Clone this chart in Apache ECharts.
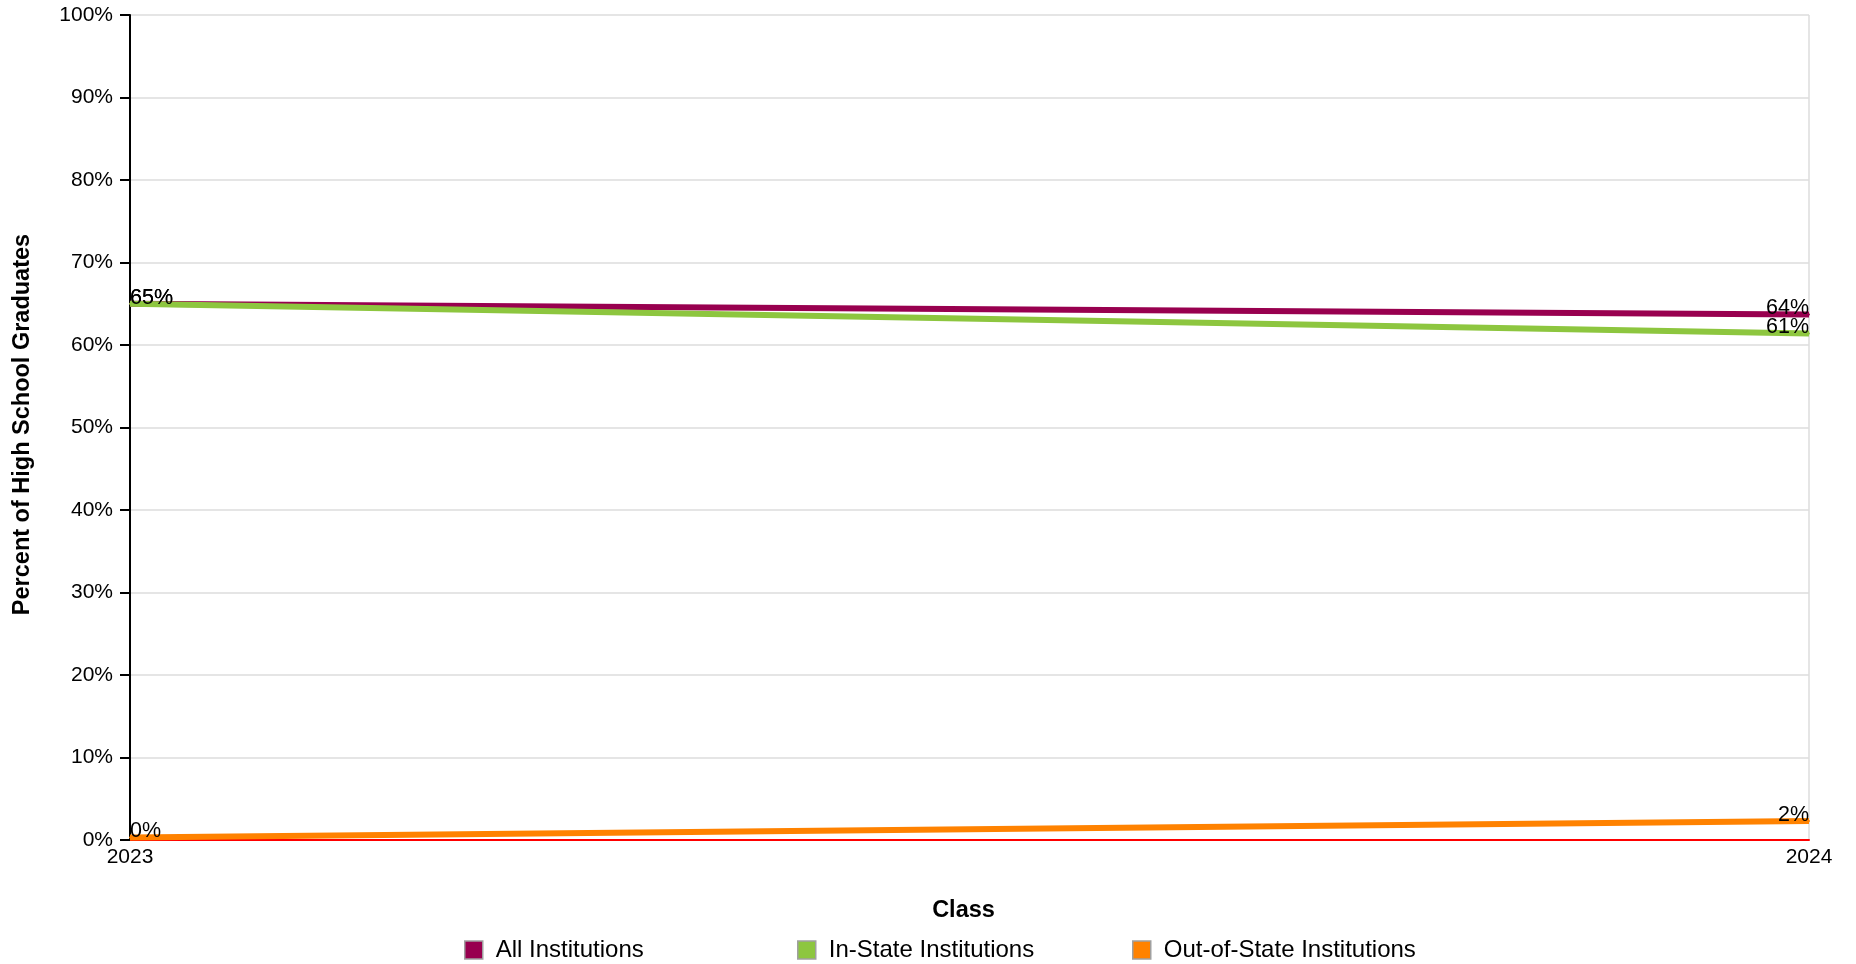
<!DOCTYPE html>
<html>
<head>
<meta charset="utf-8">
<script src="https://cdn.jsdelivr.net/npm/echarts@6/dist/echarts.min.js"></script>
<style>
html,body{margin:0;padding:0;background:#fff;}
#chart{width:1856px;height:964px;}
</style>
</head>
<body>
<div id="chart"></div>
<script>
const categories = ['2023', '2024'];
const allInstitutions = [65.0, 63.7];
const inStateInstitutions = [65.0, 61.4];
const outOfStateInstitutions = [0.3, 2.3];
const yTicks = [0, 10, 20, 30, 40, 50, 60, 70, 80, 90, 100];

const seriesNames = ['All Institutions', 'In-State Institutions', 'Out-of-State Institutions'];
const seriesColors = ['#98004f', '#8dc63f', '#ff8200'];
const seriesData = [allInstitutions, inStateInstitutions, outOfStateInstitutions];

const FONT = '"Liberation Sans", Arial, Helvetica, sans-serif';
const chart = echarts.init(document.getElementById('chart'), null, {renderer: 'canvas'});

function labelled(values) {
  return values.map((v, i) => ({
    value: v,
    label: {
      show: true,
      align: i === 0 ? 'left' : 'right',
      offset: [0, 6]
    }
  }));
}

const legendLefts = [459, 792, 1127];

const option = {
  backgroundColor: '#fff',
  animation: false,
  textStyle: {fontFamily: FONT},
  grid: {left: 130, right: 47, top: 15, bottom: 124, containLabel: false},
  legend: seriesNames.map((n, i) => ({
    data: [{name: n, itemStyle: {color: seriesColors[i], opacity: 1}}],
    left: legendLefts[i],
    top: 933,
    itemWidth: 18,
    itemHeight: 18,
    icon: 'rect',
    itemStyle: {borderColor: '#a0a0a0', borderWidth: 1.5},
    textStyle: {fontSize: 24, color: '#000', fontFamily: FONT, padding: [0, 0, 0, 8]},
    selectedMode: false
  })),
  xAxis: {
    type: 'category',
    data: categories,
    boundaryGap: false,
    name: 'Class',
    nameLocation: 'middle',
    nameGap: 59,
    nameTextStyle: {fontSize: 23.5, fontWeight: 'bold', color: '#000', fontFamily: FONT, padding: [0, 12, 0, 0]},
    axisLine: {show: true, lineStyle: {color: '#ff0000', width: 2}},
    axisTick: {show: false},
    axisLabel: {fontSize: 21, color: '#000', margin: 7, fontFamily: FONT},
    splitLine: {show: true, lineStyle: {color: '#dddddd', width: 1.5}}
  },
  yAxis: {
    type: 'value',
    min: yTicks[0],
    max: yTicks[yTicks.length - 1],
    interval: 10,
    name: 'Percent of High School Graduates',
    nameLocation: 'middle',
    nameGap: 95,
    nameRotate: 90,
    nameTextStyle: {fontSize: 23.5, fontWeight: 'bold', color: '#000', fontFamily: FONT, padding: [0, 0, 0, 6]},
    axisLine: {show: true, lineStyle: {color: '#000', width: 2}},
    axisTick: {show: true, length: 10, lineStyle: {color: '#000', width: 2}},
    axisLabel: {fontSize: 21, color: '#000', margin: 17, formatter: '{value}%', fontFamily: FONT},
    splitLine: {show: true, lineStyle: {color: '#dddddd', width: 1.5}}
  },
  series: seriesNames.map((n, i) => ({
    name: n,
    type: 'line',
    data: labelled(seriesData[i]),
    symbol: 'circle',
    symbolSize: 2,
    showSymbol: true,
    itemStyle: {color: seriesColors[i]},
    color: seriesColors[i],
    lineStyle: {width: 6, color: seriesColors[i]},
    z: 3 + i,
    label: {
      show: true,
      position: 'top',
      distance: 0,
      fontSize: 21.5,
      color: '#000',
      fontFamily: FONT,
      formatter: p => Math.round(p.value) + '%'
    }
  }))
};
chart.setOption(option);
</script>
</body>
</html>
